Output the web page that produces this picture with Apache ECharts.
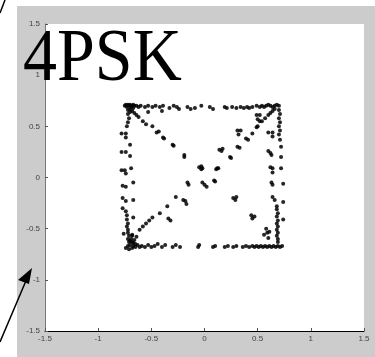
<!DOCTYPE html>
<html>
<head>
<meta charset="utf-8">
<script src="https://cdn.jsdelivr.net/npm/echarts@6/dist/echarts.min.js"></script>
<style>
  html, body { margin: 0; padding: 0; background: #ffffff; }
  #chart { width: 375px; height: 357px; }
</style>
</head>
<body>
<div id="chart"></div>
<script>
// Axis ticks shared by both axes
const tickValues = [-1.5, -1, -0.5, 0, 0.5, 1, 1.5];

// Received 4PSK constellation samples (in-phase, quadrature), grouped by trace
const topEdge = [
  [-0.75,0.70],[-0.74,0.71],[-0.73,0.69],[-0.72,0.71],[-0.71,0.70],[-0.70,0.71],[-0.69,0.69],[-0.68,0.70],
  [-0.67,0.71],[-0.66,0.70],[-0.64,0.70],[-0.62,0.69],[-0.60,0.70],[-0.56,0.69],[-0.53,0.70],[-0.49,0.69],
  [-0.46,0.70],[-0.42,0.69],[-0.39,0.70],[-0.33,0.68],[-0.29,0.70],[-0.26,0.69],[-0.24,0.67],[-0.16,0.69],
  [-0.13,0.67],[-0.09,0.68],[-0.03,0.70],[0.05,0.69],[0.08,0.67],[0.19,0.69],[0.21,0.68],[0.26,0.69],
  [0.30,0.68],[0.34,0.69],[0.37,0.68],[0.40,0.69],[0.42,0.68],[0.45,0.69],[0.49,0.70],[0.52,0.69],
  [0.54,0.70],[0.56,0.69],[0.58,0.70],[0.60,0.71],[0.62,0.70],[0.64,0.69],[0.66,0.70],[0.68,0.71],[0.70,0.70]
];
const bottomEdge = [
  [-0.74,-0.69],[-0.72,-0.67],[-0.71,-0.70],[-0.70,-0.66],[-0.68,-0.69],[-0.67,-0.67],[-0.65,-0.68],
  [-0.63,-0.66],[-0.61,-0.68],[-0.59,-0.67],[-0.56,-0.68],[-0.53,-0.66],[-0.50,-0.68],[-0.47,-0.67],
  [-0.44,-0.65],[-0.40,-0.68],[-0.37,-0.66],[-0.30,-0.68],[-0.27,-0.66],[-0.23,-0.68],[-0.06,-0.68],
  [-0.05,-0.66],[0.08,-0.68],[0.10,-0.67],[0.19,-0.68],[0.22,-0.67],[0.27,-0.68],[0.30,-0.67],
  [0.36,-0.68],[0.39,-0.67],[0.42,-0.68],[0.45,-0.67],[0.47,-0.68],[0.49,-0.67],[0.51,-0.68],
  [0.53,-0.67],[0.55,-0.68],[0.57,-0.67],[0.59,-0.68],[0.61,-0.67],[0.63,-0.68],[0.65,-0.67],
  [0.67,-0.68],[0.69,-0.67],[0.71,-0.68],[0.73,-0.67]
];
const leftEdge = [
  [-0.72,0.66],[-0.72,0.62],[-0.71,0.58],[-0.72,0.54],[-0.73,0.50],[-0.78,0.43],[-0.74,0.43],[-0.74,0.39],
  [-0.70,0.32],[-0.78,0.25],[-0.74,0.25],[-0.70,0.21],[-0.69,0.09],[-0.78,0.07],[-0.75,0.07],[-0.74,0.04],
  [-0.77,-0.08],[-0.74,-0.09],[-0.67,-0.05],[-0.77,-0.20],[-0.74,-0.23],[-0.67,-0.22],[-0.77,-0.30],
  [-0.74,-0.33],[-0.67,-0.39],[-0.73,-0.37],[-0.73,-0.41],[-0.72,-0.45],[-0.73,-0.48],[-0.72,-0.51],
  [-0.72,-0.54],[-0.71,-0.57],[-0.72,-0.60],[-0.71,-0.63],[-0.76,-0.55],[-0.68,-0.57]
];
const rightEdge = [
  [0.70,0.66],[0.71,0.62],[0.70,0.58],[0.71,0.54],[0.70,0.50],[0.71,0.46],[0.70,0.42],[0.71,0.37],
  [0.72,0.30],[0.72,0.20],[0.60,0.44],[0.64,0.44],[0.64,0.40],[0.60,0.26],[0.62,0.24],[0.63,0.22],
  [0.62,0.10],[0.64,0.09],[0.64,0.05],[0.72,0.09],[0.63,-0.05],[0.64,-0.07],[0.74,-0.06],[0.64,-0.19],
  [0.66,-0.22],[0.74,-0.24],[0.68,-0.28],[0.68,-0.31],[0.69,-0.35],[0.68,-0.38],[0.69,-0.42],[0.68,-0.45],
  [0.69,-0.48],[0.68,-0.51],[0.69,-0.54],[0.68,-0.57],[0.69,-0.60],[0.69,-0.63],[0.74,-0.41],
  [0.56,-0.56],[0.59,-0.54],[0.60,-0.59]
];
const diagonalFall = [
  [-0.70,0.67],[-0.68,0.65],[-0.66,0.63],[-0.64,0.61],[-0.62,0.59],[-0.70,0.64],[-0.67,0.68],
  [-0.58,0.55],[-0.55,0.52],[-0.49,0.50],[-0.45,0.44],[-0.43,0.45],[-0.39,0.39],[-0.38,0.38],
  [-0.30,0.32],[-0.29,0.31],[-0.19,0.22],[-0.19,0.20],[-0.05,0.10],[-0.03,0.11],[-0.02,0.09],[-0.03,0.08],
  [0.09,-0.03],[0.10,-0.04],[0.27,-0.20],[0.29,-0.22],[0.30,-0.19],[0.44,-0.37],[0.47,-0.38],[0.45,-0.40],
  [0.58,-0.50],[0.61,-0.53]
];
const diagonalRise = [
  [-0.68,-0.63],[-0.66,-0.61],[-0.64,-0.58],[-0.68,-0.56],[-0.70,-0.62],[-0.67,-0.64],[-0.65,-0.65],
  [-0.69,-0.60],[-0.61,-0.51],[-0.58,-0.48],[-0.55,-0.45],[-0.52,-0.42],[-0.49,-0.39],[-0.42,-0.35],
  [-0.35,-0.28],[-0.27,-0.19],[-0.16,-0.05],[-0.15,-0.07],[-0.02,-0.05],[0.00,-0.07],[0.02,-0.09],
  [0.11,0.08],[0.12,0.09],[0.13,0.09],[0.14,0.27],[0.16,0.26],[0.17,0.28],[0.24,0.20],[0.25,0.19],
  [0.31,0.30],[0.33,0.29],[0.39,0.38],[0.41,0.37],[0.45,0.43],[0.49,0.49],[0.50,0.50],[0.54,0.55],
  [0.57,0.58],[0.60,0.61],[0.62,0.63],[0.64,0.65],[0.66,0.67]
];
const strayPoints = [
  [-0.34,-0.40],[-0.32,-0.42],[-0.20,-0.22],[-0.18,-0.23],[-0.17,-0.26],[0.31,0.46],[0.34,0.46],
  [0.32,0.42],[0.49,0.61],[0.52,0.61],[0.50,0.57],[0.52,0.55],[-0.53,0.64],[-0.40,0.65]
];

const traces = [topEdge, bottomEdge, leftEdge, rightEdge, diagonalFall, diagonalRise, strayPoints];

const chart = echarts.init(document.getElementById('chart'), null, { renderer: 'canvas' });

const axisCommon = {
  type: 'value',
  min: -1.5,
  max: 1.5,
  interval: 0.5,
  splitLine: { show: false },
  axisTick: { show: true, inside: true, length: 3, lineStyle: { color: '#555', width: 1 } },
  axisLabel: {
    fontSize: 8,
    color: '#444',
    fontFamily: 'Liberation Sans, Arial, sans-serif',
    formatter: v => (tickValues.includes(v) ? String(v) : '')
  }
};

chart.setOption({
  backgroundColor: '#ffffff',
  animation: false,
  graphic: [
    // gray figure frame
    { type: 'rect', z: -10, silent: true, shape: { x: 17, y: 6, width: 358, height: 351 }, style: { fill: '#cccccc' } },
    // top-left pointer stub
    { type: 'line', z: 100, shape: { x1: 0, y1: 13, x2: 5, y2: 0 }, style: { stroke: '#000', lineWidth: 1.5 } },
    // bottom-left arrow
    { type: 'line', z: 100, shape: { x1: 0, y1: 342, x2: 28, y2: 276 }, style: { stroke: '#000', lineWidth: 1.5 } },
    { type: 'polygon', z: 100, shape: { points: [[32, 268], [18, 280], [29, 284]] }, style: { fill: '#000' } },
    // modulation label
    { type: 'text', z: 100, x: 23, y: 24, scaleY: 1.08,
      style: { x: 0, y: 0, text: '4PSK', fill: '#000', verticalAlign: 'top',
               font: '68px "Liberation Serif", "Times New Roman", serif' } }
  ],
  grid: {
    left: 45, right: 11, top: 24, bottom: 26,
    show: true, backgroundColor: '#ffffff', borderWidth: 0
  },
  xAxis: Object.assign({}, axisCommon, {
    axisLine: { show: true, onZero: false, lineStyle: { color: '#000', width: 1 } },
    axisLabel: Object.assign({}, axisCommon.axisLabel, { margin: 4 })
  }),
  yAxis: Object.assign({}, axisCommon, {
    axisLine: { show: true, onZero: false, lineStyle: { color: '#777', width: 1 } },
    axisLabel: Object.assign({}, axisCommon.axisLabel, { margin: 5 })
  }),
  series: traces.map(t => ({
    type: 'scatter',
    data: t,
    symbol: 'circle',
    symbolSize: 4,
    itemStyle: { color: '#000', opacity: 0.85 },
    silent: true
  }))
});
</script>
</body>
</html>
